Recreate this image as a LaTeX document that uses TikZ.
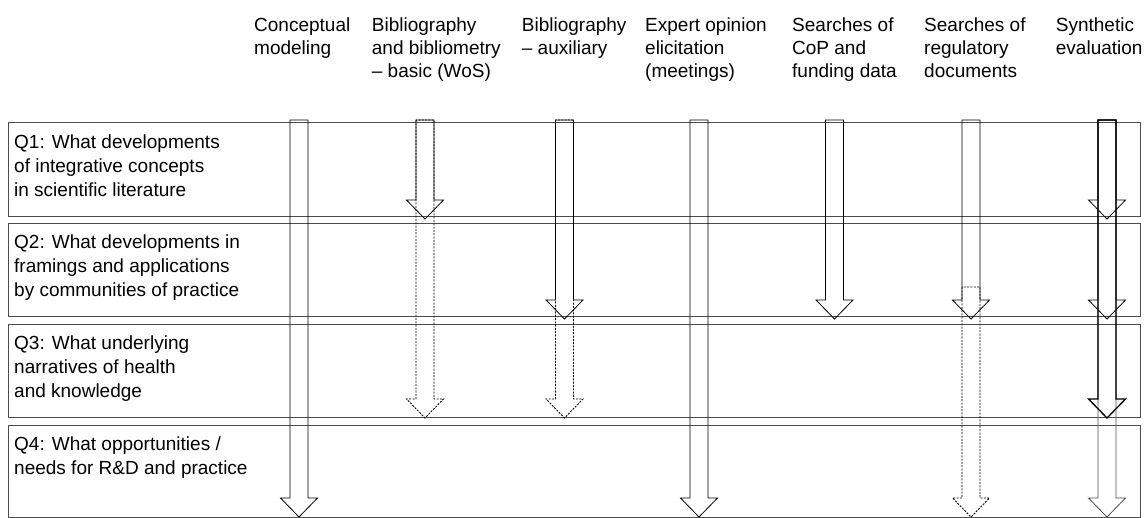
\documentclass[tikz,border=0pt]{standalone}
\usepackage{fontspec}
\setmainfont{Liberation Sans}
\usetikzlibrary{calc}
\def\colarrow[#1](#2)(#3:#4){\draw[#1] ({#2-9},#3) -- ({#2-9},{#4-19}) -- ({#2-18.5},{#4-19}) -- (#2,#4) -- ({#2+18.5},{#4-19}) -- ({#2+9},{#4-19}) -- ({#2+9},#3) -- cycle;}

\begin{document}
\begin{tikzpicture}[x=1pt, y=-1pt,
		hdr/.style={anchor=north west, align=left, inner sep=0pt, font=\fontsize{19}{23}\selectfont},
		qtext/.style={anchor=north west, align=left, inner sep=0pt, font=\fontsize{19}{24}\selectfont},
		rowbox/.style={draw=black!70, line width=0.9pt},
		solidarr/.style={line width=0.8pt, color=black},
		dotarr/.style={line width=0.9pt, color=black, dash pattern=on 2pt off 1.3pt},
		thickarr/.style={line width=1.3pt, color=black}]
		%%%%% START %%%%%
		\useasboundingbox (0,0) rectangle (1148,518);
		
		% column headers
		\node[hdr] (conc) at (254, 17.5) {Conceptual\\modeling};
		\node[hdr] (bibb) at (371.7, 17.5) {Bibliography\\and bibliometry\\– basic (WoS)};
		\node[hdr] (biba) at (521.7, 17.5) {Bibliography\\– auxiliary};
		\node[hdr] (expo) at (645, 17.5) {Expert opinion\\elicitation\\(meetings)};
		\node[hdr] (cop) at (792, 17.5) {Searches of\\CoP and\\funding data};
		\node[hdr] (regd) at (924, 17.5) {Searches of\\regulatory\\documents};
		\node[hdr] (synt) at (1055.7, 17.5) {Synthetic\\evaluation};
		
		% question rows
		\draw[rowbox] (8, 122) rectangle (1140, 216);
		\draw[rowbox] (8, 223) rectangle (1140, 316);
		\draw[rowbox] (8, 324) rectangle (1140, 417);
		\draw[rowbox] (8, 425) rectangle (1140, 517);
		
		\node[qtext] (q1) at (14, 134.5) {Q1: What developments\\of integrative concepts\\in scientific literature};
		\node[qtext] (q2) at (14, 235) {Q2: What developments in\\framings and applications\\by communities of practice};
		\node[qtext] (q3) at (14, 336) {Q3: What underlying\\narratives of health\\and knowledge};
		\node[qtext] (q4) at (14, 437) {Q4: What opportunities /\\needs for R\&D and practice};
		
		% conceptual modeling
		\colarrow[solidarr](299)(120:517)
		
		% bibliography basic
		\colarrow[solidarr](425)(120:219)
		\colarrow[dotarr](425)(120:418)
		
		% bibliography auxiliary
		\colarrow[solidarr](564.5)(120:319)
		\colarrow[dotarr](564.5)(120:418)
		
		% expert opinion
		\colarrow[solidarr](699)(120:517)
		
		% CoP and funding
		\colarrow[solidarr](834.5)(120:319)
		
		% regulatory documents
		\colarrow[solidarr](971)(120:319)
		\colarrow[dotarr](971)(287:517)
		
		% synthetic evaluation
		\colarrow[solidarr](1107)(120:219)
		\colarrow[solidarr](1107)(120:319)
		\colarrow[solidarr, color=black!70](1107)(120:517)
		\colarrow[thickarr](1107)(120:418)
		
		%%%%% END %%%%%
	\end{tikzpicture}
\end{document}
